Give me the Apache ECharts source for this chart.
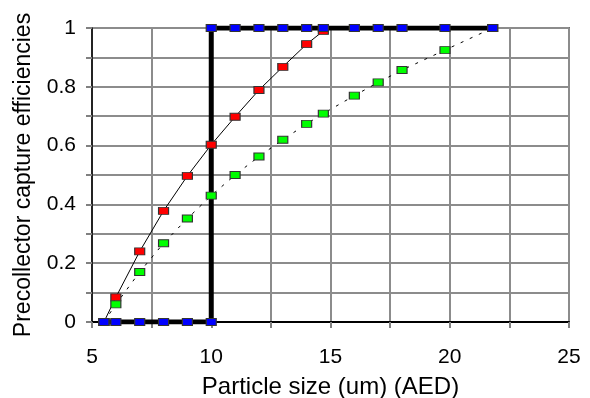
<!DOCTYPE html>
<html>
<head>
<meta charset="utf-8">
<script src="https://cdn.jsdelivr.net/npm/echarts@6/dist/echarts.min.js"></script>
<style>html,body{margin:0;padding:0;background:#fff}#c{width:590px;height:398px}</style>
</head>
<body>
<div id="c"></div>
<script>
// Data
const blueX = [5.5, 6, 7, 8, 9, 10, 10, 11, 12, 13, 14, 14.7, 16, 17, 18, 19.8, 21.8];
const blueY = [0, 0, 0, 0, 0, 0, 1, 1, 1, 1, 1, 1, 1, 1, 1, 1, 1];
const redX = [5.5, 6, 7, 8, 9, 10, 11, 12, 13, 14, 14.7];
const redY = [0, 0.084, 0.24, 0.378, 0.497, 0.603, 0.698, 0.789, 0.868, 0.945, 0.99];
const greenX = [5.5, 6, 7, 8, 9, 10, 11, 12, 13, 14, 14.7, 16, 17, 18, 19.8, 21.8];
const greenY = [0, 0.06, 0.17, 0.268, 0.352, 0.43, 0.5, 0.563, 0.62, 0.674, 0.709, 0.77, 0.815, 0.857, 0.925, 1.0];
const xTickLabels = ['5', '10', '15', '20', '25'];
const yTickLabels = ['0', '0.2', '0.4', '0.6', '0.8', '1'];

const pairs = (xs, ys) => xs.map((x, i) => [x, ys[i]]);
const FONT = 'Liberation Sans, Arial, sans-serif';

const chart = echarts.init(document.getElementById('c'), null, {renderer: 'canvas'});
chart.setOption({
  animation: false,
  backgroundColor: '#fff',
  grid: {left: 92, right: 21, top: 28, bottom: 76, show: true, borderColor: '#000', borderWidth: 1.5, backgroundColor: 'transparent', containLabel: false, outerBoundsMode: 'none'},
  xAxis: {
    type: 'value', min: 5, max: 25, interval: 2.5,
    name: 'Particle size (um) (AED)', nameLocation: 'middle', nameGap: 53,
    nameTextStyle: {fontFamily: FONT, fontSize: 24, color: '#000'},
    axisLine: {show: true, onZero: false, lineStyle: {color: '#000', width: 2}},
    axisTick: {show: true, length: 6, lineStyle: {color: '#808080', width: 2}},
    axisLabel: {
      margin: 25, fontFamily: FONT, fontSize: 21, color: '#000',
      formatter: v => xTickLabels.includes(String(v)) ? String(v) : ''
    },
    splitLine: {show: true, lineStyle: {color: '#8c8c8c', width: 2}}
  },
  yAxis: {
    type: 'value', min: 0, max: 1, interval: 0.1,
    name: 'Precollector capture efficiencies', nameLocation: 'middle', nameGap: 57,
    nameTextStyle: {fontFamily: FONT, fontSize: 23, color: '#000'},
    axisLine: {show: true, onZero: false, lineStyle: {color: '#000', width: 1.5}},
    axisTick: {show: true, length: 6, lineStyle: {color: '#808080', width: 2}},
    axisLabel: {
      margin: 16, fontFamily: FONT, fontSize: 21, color: '#000',
      formatter: v => { const s = String(Math.round(v * 10) / 10); return yTickLabels.includes(s) ? s : ''; }
    },
    splitLine: {show: true, lineStyle: {color: '#8c8c8c', width: 2}}
  },
  series: [
    {
      type: 'line', data: pairs(blueX, blueY), showSymbol: false, z: 2,
      lineStyle: {color: '#000', width: 5}
    },
    {
      type: 'line', data: pairs(redX, redY), z: 3,
      symbol: 'rect', symbolSize: [10, 7], showAllSymbol: true,
      lineStyle: {color: '#000', width: 1},
      itemStyle: {color: '#ff0000', borderColor: '#333', borderWidth: 1}
    },
    {
      type: 'line', data: pairs(greenX, greenY), z: 3,
      symbol: 'rect', symbolSize: [10, 7], showAllSymbol: true,
      lineStyle: {color: '#000', width: 1, type: [3, 7]},
      itemStyle: {color: '#00ff00', borderColor: '#333', borderWidth: 1}
    },
    {
      type: 'scatter', data: pairs(blueX, blueY), z: 4,
      symbol: 'rect', symbolSize: [10, 7],
      itemStyle: {color: '#0000ff', borderColor: '#333', borderWidth: 1, opacity: 1}
    }
  ]
});
</script>
</body>
</html>
